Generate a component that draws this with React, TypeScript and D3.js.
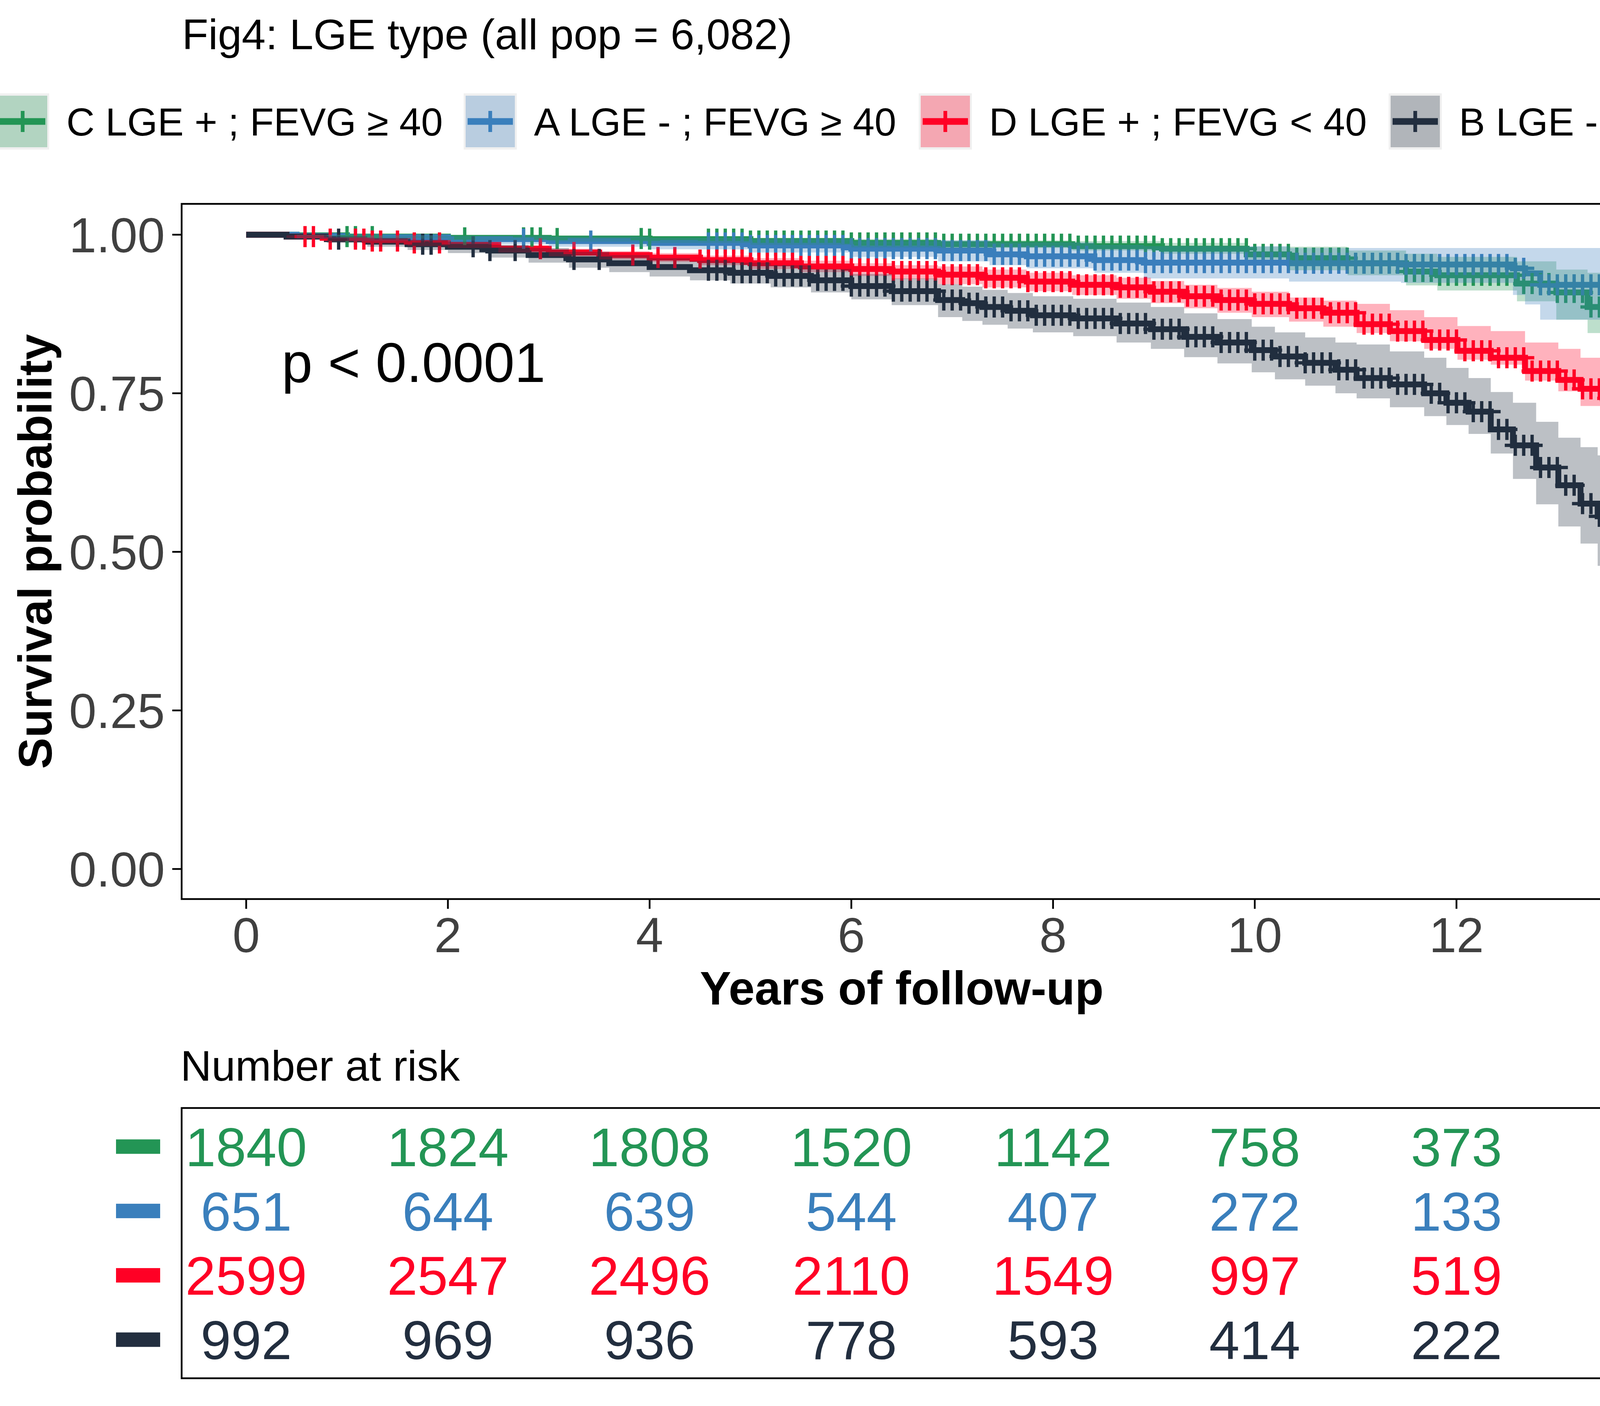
import * as d3 from 'd3';

const W = 4200;
const H = 3600;

// strata in legend order
const groupNames = ['C LGE + ; FEVG ≥ 40', 'A LGE - ; FEVG ≥ 40', 'D LGE + ; FEVG < 40', 'B LGE - ; FEVG < 40'];
const groupColors = ['#239555', '#3A7FBC', '#FF0025', '#222E3F'];

// Kaplan-Meier estimates (years, survival, 95% CI)
const greenTime = [0, 0.5, 1.0, 2.0, 3.0, 4.0, 5.0, 6.0, 6.86, 8.19, 9.08, 9.92, 10.34, 10.92, 11.5, 11.81, 12.6, 12.99, 13.3, 13.59];
const greenSurv = [1.0, 0.999, 0.997, 0.995, 0.994, 0.993, 0.99, 0.987, 0.985, 0.982, 0.978, 0.969, 0.963, 0.955, 0.942, 0.936, 0.923, 0.909, 0.886, 0.878];
const greenLower = [1.0, 0.997, 0.994, 0.991, 0.989, 0.987, 0.984, 0.98, 0.979, 0.975, 0.97, 0.961, 0.944, 0.936, 0.92, 0.912, 0.895, 0.866, 0.845, 0.833];
const greenUpper = [1.0, 1.0, 0.999, 0.998, 0.997, 0.997, 0.995, 0.993, 0.991, 0.99, 0.987, 0.981, 0.981, 0.975, 0.97, 0.965, 0.958, 0.945, 0.94, 0.94];

const blueTime = [0, 0.5, 1.0, 2.0, 3.0, 4.0, 5.0, 6.0, 6.86, 7.37, 7.74, 8.41, 8.9, 10.34, 11.45, 12.56, 12.68, 12.83, 13.52];
const blueSurv = [1.0, 0.998, 0.996, 0.993, 0.99, 0.987, 0.983, 0.978, 0.975, 0.969, 0.966, 0.96, 0.956, 0.955, 0.953, 0.947, 0.939, 0.921, 0.894];
const blueLower = [1.0, 0.994, 0.99, 0.985, 0.981, 0.977, 0.972, 0.965, 0.958, 0.952, 0.947, 0.94, 0.931, 0.926, 0.924, 0.905, 0.89, 0.866, 0.806];
const blueUpper = [1.0, 1.0, 0.999, 0.998, 0.997, 0.995, 0.993, 0.99, 0.991, 0.988, 0.988, 0.984, 0.982, 0.979, 0.979, 0.979, 0.979, 0.979, 0.992];

const redTime = [0, 0.4, 0.8, 1.2, 1.6, 2.0, 2.5, 3.0, 3.5, 4.0, 4.5, 5.0, 5.5, 6.0, 6.4, 6.86, 7.3, 7.74, 8.19, 8.63, 8.97, 9.3, 9.63, 9.97, 10.34, 10.68, 11.01, 11.34, 11.68, 12.01, 12.34, 12.68, 13.01, 13.23, 13.45, 13.54, 13.59];
const redSurv = [1.0, 0.997, 0.993, 0.99, 0.987, 0.984, 0.978, 0.972, 0.968, 0.964, 0.96, 0.955, 0.95, 0.946, 0.942, 0.937, 0.932, 0.926, 0.921, 0.917, 0.91, 0.903, 0.897, 0.891, 0.884, 0.877, 0.859, 0.848, 0.834, 0.817, 0.806, 0.785, 0.771, 0.757, 0.742, 0.728, 0.704];
const redLower = [1.0, 0.995, 0.99, 0.986, 0.982, 0.979, 0.972, 0.966, 0.961, 0.957, 0.952, 0.946, 0.941, 0.935, 0.93, 0.922, 0.917, 0.911, 0.905, 0.899, 0.892, 0.884, 0.877, 0.87, 0.863, 0.855, 0.845, 0.832, 0.82, 0.803, 0.795, 0.77, 0.753, 0.73, 0.693, 0.68, 0.668];
const redUpper = [1.0, 0.999, 0.996, 0.993, 0.991, 0.988, 0.983, 0.978, 0.974, 0.971, 0.967, 0.963, 0.959, 0.955, 0.952, 0.95, 0.945, 0.94, 0.936, 0.932, 0.927, 0.921, 0.916, 0.91, 0.901, 0.896, 0.891, 0.881, 0.87, 0.856, 0.848, 0.83, 0.82, 0.806, 0.795, 0.785, 0.781];

const blackTime = [0, 0.4, 0.8, 1.2, 1.6, 2.0, 2.4, 2.8, 3.2, 3.6, 4.0, 4.4, 4.8, 5.2, 5.6, 6.0, 6.4, 6.86, 7.1, 7.3, 7.55, 7.8, 8.2, 8.63, 8.97, 9.3, 9.63, 9.97, 10.2, 10.5, 10.8, 11.01, 11.34, 11.68, 11.9, 12.12, 12.34, 12.56, 12.79, 13.01, 13.23, 13.4, 13.56];
const blackSurv = [1.0, 0.997, 0.993, 0.989, 0.985, 0.981, 0.975, 0.968, 0.961, 0.955, 0.949, 0.944, 0.94, 0.935, 0.928, 0.919, 0.911, 0.897, 0.892, 0.886, 0.88, 0.873, 0.868, 0.86, 0.851, 0.839, 0.83, 0.818, 0.808, 0.798, 0.787, 0.774, 0.764, 0.75, 0.735, 0.721, 0.693, 0.668, 0.633, 0.605, 0.576, 0.556, 0.525];
const blackLower = [1.0, 0.993, 0.987, 0.981, 0.976, 0.971, 0.964, 0.956, 0.948, 0.941, 0.934, 0.928, 0.923, 0.917, 0.909, 0.898, 0.889, 0.87, 0.864, 0.858, 0.852, 0.846, 0.84, 0.83, 0.82, 0.807, 0.797, 0.783, 0.772, 0.762, 0.75, 0.742, 0.728, 0.714, 0.7, 0.686, 0.655, 0.615, 0.575, 0.54, 0.513, 0.478, 0.474];
const blackUpper = [1.0, 1.0, 0.998, 0.995, 0.992, 0.989, 0.984, 0.979, 0.973, 0.968, 0.963, 0.959, 0.956, 0.952, 0.946, 0.938, 0.931, 0.922, 0.918, 0.913, 0.908, 0.903, 0.899, 0.893, 0.886, 0.876, 0.867, 0.855, 0.846, 0.838, 0.83, 0.827, 0.816, 0.806, 0.79, 0.774, 0.752, 0.735, 0.705, 0.68, 0.665, 0.652, 0.652];

// last follow-up (years) – curves run on to the panel edge
const lastFollowUp = [13.7, 13.7, 13.7, 13.7];

// censoring times, in months of follow-up
const monthlyCensorMonths = [
  55, 56, 57, 58, 59, 60, 61, 62, 63, 64, 65, 66, 67, 68, 69, 70, 71, 72, 73, 74, 75, 76, 77, 78, 79, 80,
  81, 82, 83, 84, 85, 86, 87, 88, 89, 90, 91, 92, 93, 94, 95, 96, 97, 98, 99, 100, 101, 102, 103, 104, 105,
  106, 107, 108, 109, 110, 111, 112, 113, 114, 115, 116, 117, 118, 119, 120, 121, 122, 123, 124, 125, 126,
  127, 128, 129, 130, 131, 132, 133, 134, 135, 136, 137, 138, 139, 140, 141, 142, 143, 144, 145, 146, 147,
  148, 149, 150, 151, 152, 153, 154, 155, 156, 157, 158, 159, 160, 161, 162, 163
];
const greenEarlyCensor = [12, 13, 15, 26, 33, 34, 35, 37, 47, 48];
const blueEarlyCensor = [33, 41];
const redEarlyCensor = [7, 8, 10, 13, 14, 15, 16, 18, 20, 23, 35, 39, 46, 49, 51, 54];
const blackEarlyCensor = [11, 21, 22, 27, 29, 32, 39, 42];

const greenCensor = greenEarlyCensor.concat(monthlyCensorMonths);
const blueCensor = blueEarlyCensor.concat(monthlyCensorMonths.filter(m => m !== 153));
const redCensor = redEarlyCensor.concat(monthlyCensorMonths);
const blackCensor = blackEarlyCensor.concat(monthlyCensorMonths);

// number at risk table
const riskTimes = [0, 2, 4, 6, 8, 10, 12];
const riskGreen = [1840, 1824, 1808, 1520, 1142, 758, 373];
const riskBlue = [651, 644, 639, 544, 407, 272, 133];
const riskRed = [2599, 2547, 2496, 2110, 1549, 997, 519];
const riskBlack = [992, 969, 936, 778, 593, 414, 222];

const xTicks = [0, 2, 4, 6, 8, 10, 12];
const yTicks = [0, 0.25, 0.5, 0.75, 1];

const FONT = '"Liberation Sans", Arial, Helvetica, sans-serif';

type Pt = { t: number; s: number; lo: number; hi: number };

function buildSeries(time: number[], surv: number[], lower: number[], upper: number[], end: number): Pt[] {
  const pts = time.map((t, i) => ({ t, s: surv[i], lo: lower[i], hi: upper[i] }));
  const last = pts[pts.length - 1];
  pts.push({ ...last, t: end });
  return pts;
}

const series = [
  buildSeries(greenTime, greenSurv, greenLower, greenUpper, lastFollowUp[0]),
  buildSeries(blueTime, blueSurv, blueLower, blueUpper, lastFollowUp[1]),
  buildSeries(redTime, redSurv, redLower, redUpper, lastFollowUp[2]),
  buildSeries(blackTime, blackSurv, blackLower, blackUpper, lastFollowUp[3]),
];
const censors = [greenCensor, blueCensor, redCensor, blackCensor];
const risks = [riskGreen, riskBlue, riskRed, riskBlack];

// layout
const panel = { left: 465, right: 4152, top: 522, bottom: 2302 };
const table = { top: 2837, bottom: 3529 };
const legendKeyX = [-10, 1187, 2352, 3555];

export default function App() {
  const x = d3.scaleLinear().domain([-0.64, 13.64]).range([panel.left, panel.right]);
  const y = d3.scaleLinear().domain([-0.0474, 1.0486]).range([panel.bottom, panel.top]);
  const rowY = d3.scalePoint<number>().domain([0, 1, 2, 3]).range([table.top, table.bottom]).padding(0.6);

  const line = d3.line<Pt>().x(d => x(d.t)).y(d => y(d.s)).curve(d3.curveStepAfter);
  const band = d3.area<Pt>().x(d => x(d.t)).y0(d => y(d.lo)).y1(d => y(d.hi)).curve(d3.curveStepAfter);
  const bisect = d3.bisector<Pt, number>(d => d.t).right;

  const censorPts = censors.map((months, gi) =>
    months.map(m => {
      const t = m / 12;
      const idx = Math.max(0, bisect(series[gi], t) - 1);
      return { t, s: series[gi][idx].s };
    })
  );

  const lineW = 15;
  const markHalf = 27;
  const markW = 8.5;

  return (
    <svg width={W} height={H} style={{ position: 'absolute', left: 0, top: 0, background: '#fff' }} fontFamily={FONT}>
      <rect x={0} y={0} width={W} height={H} fill="#fff" />
      <defs>
        <clipPath id="panelClip">
          <rect x={panel.left} y={panel.top} width={panel.right - panel.left} height={panel.bottom - panel.top} />
        </clipPath>
      </defs>

      {/* title */}
      <text x={466} y={126} fontSize={110} fill="#000">Fig4: LGE type (all pop = 6,082)</text>

      {/* legend (runs past both edges, as in the original) */}
      {groupNames.map((name, i) => {
        const kx = legendKeyX[i];
        const cy = 311;
        return (
          <g key={name}>
            <rect x={kx} y={239} width={136} height={144} fill="#F0F0F0" />
            <rect x={kx + 5} y={245} width={126} height={132} fill={groupColors[i]} fillOpacity={0.3} />
            <line x1={kx + 10} x2={kx + 126} y1={cy} y2={cy} stroke={groupColors[i]} strokeWidth={17} />
            <line x1={kx + 68} x2={kx + 68} y1={cy - markHalf} y2={cy + markHalf} stroke={groupColors[i]} strokeWidth={9.5} />
            <text x={kx + 180} y={347} fontSize={100} fill="#000">{name}</text>
          </g>
        );
      })}

      {/* survival curves: steps, censor marks, then CI ribbons on top */}
      <g clipPath="url(#panelClip)">
        {series.map((s, i) => (
          <path key={'l' + i} d={line(s) || ''} fill="none" stroke={groupColors[i]} strokeWidth={lineW} />
        ))}
        {censorPts.map((pts, i) => (
          <g key={'c' + i} stroke={groupColors[i]} strokeWidth={markW}>
            {pts.map((p, j) => (
              <g key={j}>
                <line x1={x(p.t)} x2={x(p.t)} y1={y(p.s) - markHalf} y2={y(p.s) + markHalf} />
                <line x1={x(p.t) - markHalf} x2={x(p.t) + markHalf} y1={y(p.s)} y2={y(p.s)} />
              </g>
            ))}
          </g>
        ))}
        {series.map((s, i) => (
          <path key={'b' + i} d={band(s) || ''} fill={groupColors[i]} fillOpacity={0.3} stroke="none" />
        ))}
      </g>

      <text x={721} y={978} fontSize={142} fill="#000">p &lt; 0.0001</text>

      {/* panel border */}
      <rect x={panel.left} y={panel.top} width={panel.right - panel.left} height={panel.bottom - panel.top}
        fill="none" stroke="#000" strokeWidth={4.5} />

      {/* y axis */}
      {yTicks.map(v => (
        <g key={'y' + v}>
          <line x1={panel.left - 24} x2={panel.left} y1={y(v)} y2={y(v)} stroke="#000" strokeWidth={4.5} />
          <text x={panel.left - 43} y={y(v)} dy="0.36em" textAnchor="end" fontSize={126} fill="#404040">{v.toFixed(2)}</text>
        </g>
      ))}
      <text transform={`translate(132, ${(panel.top + panel.bottom) / 2}) rotate(-90)`} textAnchor="middle"
        fontSize={120} fontWeight="bold" fill="#000">Survival probability</text>

      {/* x axis */}
      {xTicks.map(t => (
        <g key={'x' + t}>
          <line x1={x(t)} x2={x(t)} y1={panel.bottom} y2={panel.bottom + 25} stroke="#000" strokeWidth={4.5} />
          <text x={x(t)} y={2438} textAnchor="middle" fontSize={126} fill="#404040">{t}</text>
        </g>
      ))}
      <text x={(panel.left + panel.right) / 2} y={2572} textAnchor="middle" fontSize={120} fontWeight="bold" fill="#000">
        Years of follow-up
      </text>

      {/* number at risk */}
      <text x={462} y={2767} fontSize={110} fill="#000">Number at risk</text>
      <rect x={panel.left} y={table.top} width={panel.right - panel.left} height={table.bottom - table.top}
        fill="none" stroke="#000" strokeWidth={4.5} />
      {risks.map((row, gi) => (
        <g key={'r' + gi}>
          <rect x={297} y={(rowY(gi) as number) - 18.5} width={113} height={37} fill={groupColors[gi]} />
          {row.map((n, j) => (
            <text key={j} x={x(riskTimes[j])} y={(rowY(gi) as number) + 50} textAnchor="middle" fontSize={140}
              fill={groupColors[gi]}>{n}</text>
          ))}
        </g>
      ))}
    </svg>
  );
}
